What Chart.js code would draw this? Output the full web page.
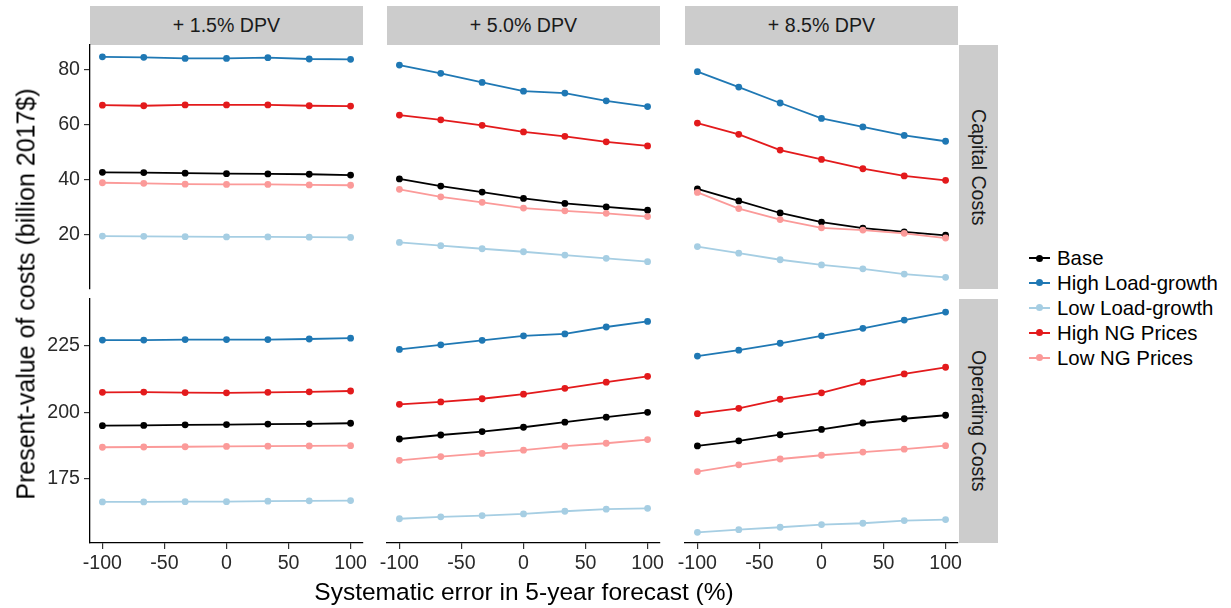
<!DOCTYPE html>
<html>
<head>
<meta charset="utf-8">
<script src="https://cdn.jsdelivr.net/npm/chart.js@4"></script>
<style>
  body{margin:0;background:#fff;font-family:"Liberation Sans",Arial,sans-serif;}
  #wrap{position:relative;width:1231px;height:608px;overflow:hidden;}
  .panel{position:absolute;}
  .strip{position:absolute;background:#cccccc;color:#1a1a1a;font-size:19.6px;display:flex;align-items:center;justify-content:center;white-space:nowrap;}
  .vstrip{writing-mode:vertical-rl;}
  .title{position:absolute;white-space:nowrap;color:#000;font-size:24.5px;transform:translate(-50%,-50%);}
  .ytitle{font-size:25px;transform:translate(-50%,-50%) rotate(-90deg);}
  .leg{position:absolute;left:1029px;height:24px;font-size:20.4px;color:#000;white-space:nowrap;}
  .leg .ln{position:absolute;left:0;top:11px;width:21px;height:2px;}
  .leg .dt{position:absolute;left:7px;top:8.5px;width:7px;height:7px;border-radius:50%;}
  .leg .tx{position:absolute;left:28px;top:0;line-height:24px;}
</style>
</head>
<body>
<div id="wrap"></div>
<script>
// --- data -----------------------------------------------------------------
const xValues = [-100, -66.67, -33.33, 0, 33.33, 66.67, 100];
const seriesNames = ['Base', 'High Load-growth', 'Low Load-growth', 'High NG Prices', 'Low NG Prices'];
const facetCols = ['+ 1.5% DPV', '+ 5.0% DPV', '+ 8.5% DPV'];
const facetRows = ['Capital Costs', 'Operating Costs'];

// one array per facet, rows in the same order as seriesNames
const capital15 = [
  [42.8, 42.7, 42.5, 42.3, 42.2, 42.1, 41.8],
  [84.8, 84.6, 84.2, 84.2, 84.5, 84.0, 83.9],
  [19.6, 19.5, 19.4, 19.3, 19.3, 19.2, 19.1],
  [67.2, 67.0, 67.3, 67.3, 67.3, 67.0, 66.9],
  [39.0, 38.8, 38.5, 38.4, 38.4, 38.2, 38.1]
];
const capital50 = [
  [40.4, 37.8, 35.6, 33.3, 31.5, 30.2, 29.0],
  [81.8, 78.8, 75.5, 72.3, 71.6, 68.8, 66.7],
  [17.3, 16.1, 15.0, 13.9, 12.7, 11.5, 10.3],
  [63.6, 61.9, 59.9, 57.5, 55.9, 53.9, 52.4],
  [36.6, 33.9, 31.9, 29.8, 28.8, 27.9, 26.7]
];
const capital85 = [
  [36.8, 32.4, 28.0, 24.7, 22.5, 21.1, 19.9],
  [79.4, 73.8, 68.0, 62.4, 59.3, 56.2, 54.1],
  [15.8, 13.4, 11.0, 9.1, 7.7, 5.8, 4.6],
  [60.7, 56.6, 50.9, 47.5, 44.1, 41.5, 39.9],
  [35.5, 29.6, 25.6, 22.6, 21.8, 20.6, 18.9]
];
const operating15 = [
  [195.0, 195.1, 195.3, 195.4, 195.6, 195.7, 195.9],
  [227.1, 227.1, 227.3, 227.3, 227.3, 227.5, 227.8],
  [166.4, 166.4, 166.5, 166.5, 166.7, 166.8, 166.9],
  [207.5, 207.6, 207.4, 207.3, 207.5, 207.7, 208.0],
  [186.9, 187.0, 187.1, 187.2, 187.3, 187.4, 187.5]
];
const operating50 = [
  [190.0, 191.5, 192.8, 194.4, 196.3, 198.2, 200.0],
  [223.6, 225.3, 227.0, 228.7, 229.4, 232.0, 234.1],
  [160.1, 160.8, 161.3, 161.9, 162.9, 163.7, 164.0],
  [203.0, 203.9, 205.1, 206.8, 209.0, 211.3, 213.5],
  [182.0, 183.4, 184.6, 185.8, 187.3, 188.4, 189.8]
];
const operating85 = [
  [187.4, 189.3, 191.6, 193.6, 196.0, 197.6, 198.9],
  [221.1, 223.3, 225.9, 228.7, 231.5, 234.6, 237.6],
  [155.0, 156.0, 156.9, 157.9, 158.4, 159.4, 159.8],
  [199.5, 201.5, 204.9, 207.3, 211.3, 214.4, 216.9],
  [177.8, 180.3, 182.5, 183.9, 185.1, 186.2, 187.5]
];

// axis ticks and limits
const xTicks = [-100, -50, 0, 50, 100];
const xLimits = [-110, 110];
const capitalTicks = [20, 40, 60, 80];
const capitalLimits = [0.36, 89.1];
const operatingTicks = [175, 200, 225];
const operatingLimits = [151.0, 242.5];

// --- styles / layout -----------------------------------------------------------
const seriesColors = ['#000000', '#1f78b4', '#a6cee3', '#e31a1c', '#fb9a99'];
const FONT = '"Liberation Sans", Arial, sans-serif';
const panelLeft = [90, 387, 685];
const panelTop = [45, 299];
const panelW = 273, panelH = 244;

(function(){
  const wrap = document.getElementById('wrap');
  const facetData = [[capital15, capital50, capital85], [operating15, operating50, operating85]];
  const rowTicks = [capitalTicks, operatingTicks];
  const rowLimits = [capitalLimits, operatingLimits];

  function addDiv(cls, css, text){
    const d = document.createElement('div');
    d.className = cls;
    Object.assign(d.style, css);
    if(text !== undefined) d.textContent = text;
    wrap.appendChild(d);
    return d;
  }

  function makePanel(r, c){
    const hasY = c === 0;        // only the first column carries the y axis
    const hasX = r === 1;        // only the bottom row carries the x axis
    // padding must be larger than half a tick label, or chart.js shrinks the plot area
    const padL = hasY ? 50 : 26, padR = 26, padT = 20;
    const padB = hasX ? 40 : 20;

    const box = addDiv('panel', {
      left: (panelLeft[c] - padL) + 'px', top: (panelTop[r] - padT) + 'px',
      width: (panelW + padL + padR) + 'px', height: (panelH + padT + padB) + 'px'
    });
    const cv = document.createElement('canvas');
    box.appendChild(cv);

    const n = seriesNames.length;
    const datasets = facetData[r][c].map((vals, i) => ({
      label: seriesNames[i],
      data: xValues.map((x, k) => ({x: x, y: vals[k]})),
      borderColor: seriesColors[i],
      backgroundColor: seriesColors[i],
      pointBackgroundColor: seriesColors[i],
      borderWidth: 1.8,
      pointRadius: 3.4,
      pointBorderWidth: 0,
      tension: 0,
      clip: false,
      order: n - i   // later series drawn on top, like ggplot
    }));

    const tickFont = {family: FONT, size: 19.6};
    new Chart(cv, {
      type: 'line',
      data: {datasets},
      options: {
        responsive: true,
        maintainAspectRatio: false,
        animation: false,
        layout: {padding: {left: hasY ? 0 : padL, right: padR, top: padT, bottom: hasX ? 0 : padB}},
        plugins: {legend: {display: false}, tooltip: {enabled: false}},
        scales: {
          x: {
            type: 'linear', display: hasX,
            min: xLimits[0], max: xLimits[1],
            afterBuildTicks: s => { s.ticks = xTicks.map(v => ({value: v})); },
            // hidden axes must stay at zero size, otherwise they eat panel space
            afterFit: s => { s.height = hasX ? padB : 0; },
            border: {display: true, color: '#000', width: 1.3},
            grid: {drawOnChartArea: false, drawTicks: true, tickLength: 6, tickColor: '#333', lineWidth: 1.2},
            ticks: {font: tickFont, color: '#2a2a2a', padding: 3, maxRotation: 0, callback: v => String(v)}
          },
          y: {
            type: 'linear', display: hasY,
            min: rowLimits[r][0], max: rowLimits[r][1],
            afterBuildTicks: s => { s.ticks = rowTicks[r].map(v => ({value: v})); },
            afterFit: s => { s.width = hasY ? padL : 0; },
            border: {display: true, color: '#000', width: 1.3},
            grid: {drawOnChartArea: false, drawTicks: true, tickLength: 6, tickColor: '#333', lineWidth: 1.2},
            ticks: {font: tickFont, color: '#2a2a2a', padding: 4, callback: v => String(v)}
          }
        }
      }
    });
  }

  // facet strips
  facetCols.forEach((t, c) => addDiv('strip', {left: panelLeft[c] + 'px', top: '6px', width: panelW + 'px', height: '39px'}, t));
  facetRows.forEach((t, r) => addDiv('strip vstrip', {left: (panelLeft[2] + panelW + 1) + 'px', top: panelTop[r] + 'px', width: '39px', height: panelH + 'px'}, t));

  for(let r = 0; r < 2; r++) for(let c = 0; c < 3; c++) makePanel(r, c);

  // axis titles
  addDiv('title', {left: '524px', top: '592px'}, 'Systematic error in 5-year forecast (%)');
  addDiv('title ytitle', {left: '26px', top: '294px'}, 'Present-value of costs (billion 2017$)');

  // legend
  seriesNames.forEach((name, i) => {
    const it = addDiv('leg', {top: (246 + i * 24.9) + 'px'});
    const ln = document.createElement('span'); ln.className = 'ln'; ln.style.background = seriesColors[i];
    const dt = document.createElement('span'); dt.className = 'dt'; dt.style.background = seriesColors[i];
    const tx = document.createElement('span'); tx.className = 'tx'; tx.textContent = name;
    it.append(ln, dt, tx);
  });
})();
</script>
</body>
</html>
